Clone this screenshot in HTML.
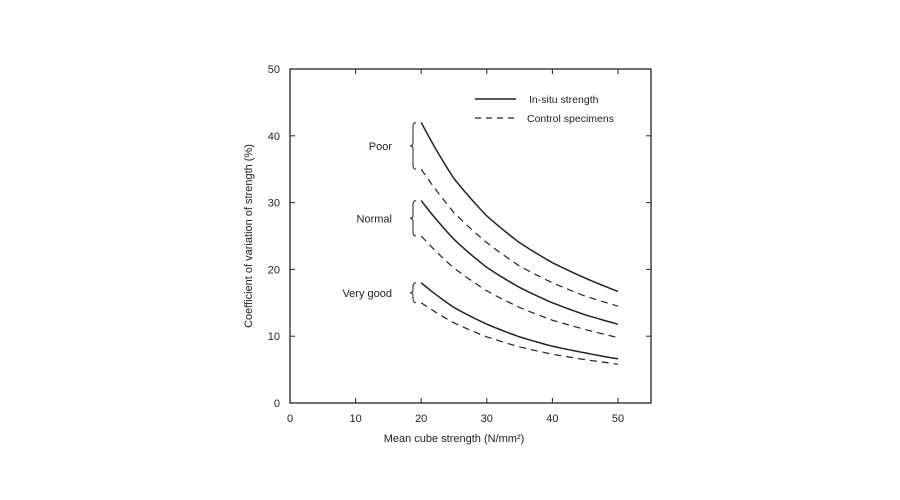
<!DOCTYPE html>
<html><head><meta charset="utf-8"><style>
body{margin:0;background:#fff;}
svg{display:block;font-family:"Liberation Sans",sans-serif;}
</style></head><body>
<svg id="chart" width="900" height="500">
<rect x="290" y="69" width="361" height="334" fill="none" stroke="#222" stroke-width="1.3"/>
<g id="axes"></g><g id="series"></g><g id="braces"></g>
<text x="454" y="442" font-size="11" text-anchor="middle" fill="#222">Mean cube strength (N/mm²)</text>
<text transform="translate(252,236) rotate(-90)" font-size="11" text-anchor="middle" fill="#222">Coefficient of variation of strength (%)</text>
<g>
<line x1="475" y1="99" x2="516" y2="99" stroke="#222" stroke-width="1.5"/>
<text x="529" y="103" font-size="10.5" fill="#222">In-situ strength</text>
<line x1="475" y1="118" x2="516" y2="118" stroke="#222" stroke-width="1.2" stroke-dasharray="6,5"/>
<text x="527" y="122" font-size="10.5" fill="#222">Control specimens</text>
</g>
</svg>
<script>
const xs=[20,25,30,35,40,45,50];
const poorInsitu=[42,33.6,28,24,21,18.7,16.7];
const poorControl=[35,28.5,24,20.5,18,16,14.5];
const normalInsitu=[30.3,24.5,20.3,17.3,15,13.2,11.8];
const normalControl=[25,20.2,16.8,14.3,12.4,11,9.8];
const goodInsitu=[18,14.3,11.8,9.9,8.5,7.5,6.6];
const goodControl=[15,12,9.9,8.4,7.3,6.5,5.8];
const xTicks=[0,10,20,30,40,50];
const yTicks=[0,10,20,30,40,50];
const categories=["Poor","Normal","Very good"];
const NS="http://www.w3.org/2000/svg";
const X=v=>290+v*6.56, Y=v=>403-v*6.68;
function mk(t,a,p){const e=document.createElementNS(NS,t);for(const k in a)e.setAttribute(k,a[k]);p.appendChild(e);return e;}
const ax=document.getElementById('axes');
xTicks.forEach(t=>{
 const l=mk('text',{x:X(t),y:422,'font-size':11,'text-anchor':'middle',fill:'#222'},ax);l.textContent=t;
 
 
 if(t>0){const a=mk('line',{x1:X(t),x2:X(t),y1:403,y2:398,stroke:'#222'},ax);
 
 
 const b=mk('line',{x1:X(t),x2:X(t),y1:69,y2:74,stroke:'#222'},ax);
 
 }
});
yTicks.forEach(t=>{
 const l=mk('text',{x:280,y:Y(t)+4,'font-size':11,'text-anchor':'end',fill:'#222'},ax);l.textContent=t;
 
 
 if(t>0&&t<50){const a=mk('line',{x1:290,x2:295,y1:Y(t),y2:Y(t),stroke:'#222'},ax);
 
 
 const b=mk('line',{x1:651,x2:646,y1:Y(t),y2:Y(t),stroke:'#222'},ax);
 
 }
});
function path(vals){let d='';for(let i=0;i<xs.length-1;i++){const x0=xs[i],x1=xs[i+1];
 for(let s=0;s<=10;s++){const f=s/10;const x=x0+(x1-x0)*f;
 const v=Math.exp(Math.log(vals[i])*(1-f)+Math.log(vals[i+1])*f);
 d+=(d?'L':'M')+X(x).toFixed(1)+','+Y(v).toFixed(1);}}return d;}
const sg=document.getElementById('series');
[[poorInsitu,0,'poor-insitu'],[poorControl,1,'poor-control'],[normalInsitu,0,'normal-insitu'],[normalControl,1,'normal-control'],[goodInsitu,0,'very-good-insitu'],[goodControl,1,'very-good-control']].forEach(([v,dash,n])=>{
 const p=mk('path',{d:path(v),fill:'none',stroke:'#222','stroke-width':dash?1.2:1.5},sg);
 if(dash)p.setAttribute('stroke-dasharray','7,5');
 
 
});
const bg=document.getElementById('braces');
[[poorInsitu[0],poorControl[0]],[normalInsitu[0],normalControl[0]],[goodInsitu[0],goodControl[0]]].forEach(([hi,lo],i)=>{
 const y1=Y(hi),y2=Y(lo),ym=(y1+y2)/2,bx=413;
 const p=mk('path',{d:`M${bx+3},${y1} Q${bx},${y1} ${bx},${y1+4} L${bx},${ym-3} Q${bx},${ym} ${bx-3},${ym} Q${bx},${ym} ${bx},${ym+3} L${bx},${y2-4} Q${bx},${y2} ${bx+3},${y2}`,fill:'none',stroke:'#222','stroke-width':1},bg);
 
 
 const t=mk('text',{x:392,y:ym+4,'font-size':11,'text-anchor':'end',fill:'#222'},bg);t.textContent=categories[i];
 
 
});
</script>
</body></html>
